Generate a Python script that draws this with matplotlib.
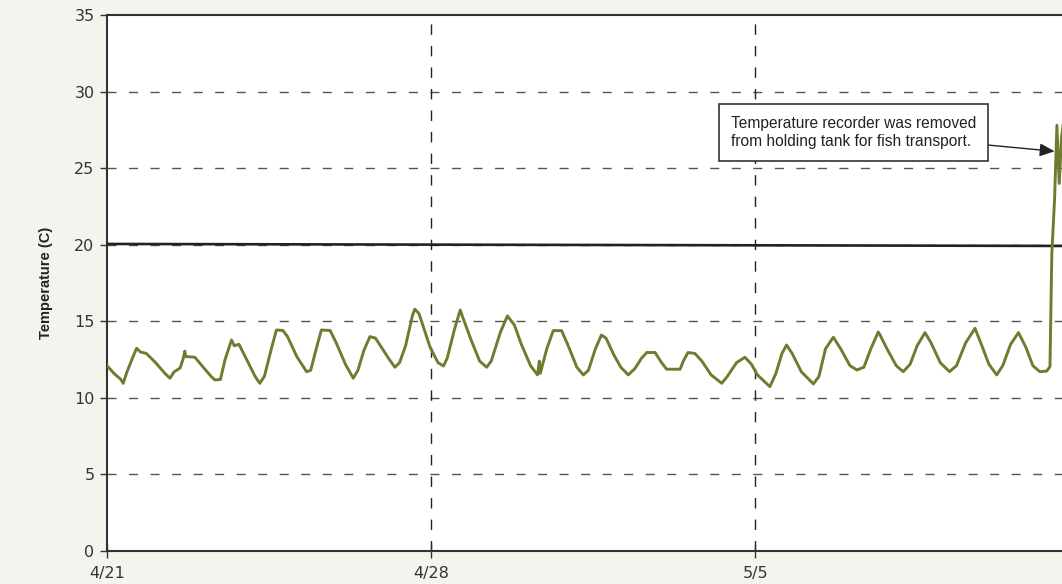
import matplotlib
matplotlib.use("Agg")
import matplotlib.pyplot as plt

plt.rcParams['font.family'] = ['Liberation Sans', 'DejaVu Sans']

# days since 4/21 and water temperature (C)
days = [0.00, 0.15, 0.30, 0.35, 0.42, 0.55, 0.64, 0.72, 0.85, 1.05, 1.25, 1.36, 1.45, 1.58,
        1.65, 1.68, 1.70, 1.90, 2.05, 2.25, 2.33, 2.45, 2.55, 2.69, 2.75, 2.85, 3.00, 3.20,
        3.30, 3.40, 3.55, 3.66, 3.80, 3.90, 4.10, 4.31, 4.40, 4.52, 4.63, 4.82, 4.95, 5.15,
        5.32, 5.42, 5.55, 5.68, 5.80, 5.95, 6.10, 6.22, 6.32, 6.45, 6.60, 6.65, 6.74, 6.85,
        6.98, 7.15, 7.27, 7.35, 7.50, 7.63, 7.68, 7.85, 8.05, 8.20, 8.30, 8.50, 8.65, 8.80,
        8.95, 9.15, 9.30, 9.34, 9.36, 9.50, 9.64, 9.82, 9.95, 10.15, 10.29, 10.40, 10.55,
        10.68, 10.78, 10.95, 11.10, 11.26, 11.40, 11.55, 11.66, 11.84, 11.98, 12.09, 12.38,
        12.45, 12.55, 12.70, 12.85, 13.05, 13.28, 13.40, 13.60, 13.78, 13.92, 14.05, 14.32,
        14.45, 14.58, 14.68, 14.80, 15.00, 15.26, 15.38, 15.52, 15.69, 15.85, 16.05, 16.20,
        16.35, 16.50, 16.66, 16.70, 16.85, 17.05, 17.20, 17.35, 17.50, 17.67, 17.80, 18.00,
        18.20, 18.35, 18.55, 18.75, 18.90, 19.05, 19.22, 19.35, 19.52, 19.69, 19.85, 20.00,
        20.15, 20.30, 20.37, 20.41, 20.43, 20.47, 20.52, 20.57, 20.62, 20.70]
temps = [12.1, 11.6, 11.2, 10.95, 11.6, 12.6, 13.24, 13.0, 12.9, 12.3, 11.6, 11.28, 11.7, 11.95,
         12.6, 13.05, 12.7, 12.65, 12.1, 11.4, 11.17, 11.2, 12.5, 13.78, 13.4, 13.5, 12.6, 11.4,
         10.95, 11.4, 13.2, 14.43, 14.4, 14.0, 12.7, 11.71, 11.8, 13.2, 14.43, 14.4, 13.6, 12.2,
         11.28, 11.8, 13.1, 14.0, 13.9, 13.2, 12.5, 12.0, 12.3, 13.4, 15.4, 15.79, 15.5, 14.5,
         13.3, 12.3, 12.08, 12.6, 14.4, 15.74, 15.3, 13.9, 12.4, 12.0, 12.4, 14.3, 15.35, 14.76,
         13.5, 12.1, 11.5, 12.4, 11.6, 13.2, 14.39, 14.39, 13.5, 12.0, 11.5, 11.8, 13.2,
         14.1, 13.9, 12.8, 12.0, 11.5, 11.9, 12.6, 12.96, 12.96, 12.3, 11.87, 11.87,
         12.4, 12.96, 12.9, 12.4, 11.5, 10.95, 11.4, 12.3, 12.65, 12.2, 11.5, 10.73,
         11.6, 12.9, 13.45, 12.9, 11.7, 10.91, 11.4, 13.2, 13.96, 13.2, 12.1, 11.82,
         12.0, 13.2, 14.3, 14.1, 13.2, 12.1, 11.71, 12.2, 13.4, 14.26, 13.6, 12.3,
         11.71, 12.1, 13.6, 14.54, 13.4, 12.2, 11.5, 12.1, 13.5, 14.26, 13.3, 12.1,
         11.71, 11.75, 12.04, 19.4, 20.6, 23.0, 27.8, 24.0, 27.0, 29.0]

# 20 C criterion line (slightly sloped in the original)
limit_days = [0.0, 20.63]
limit_temps = [20.05, 19.92]

tick_days = [0, 7, 14]
tick_labels = ["4/21", "4/28", "5/5"]

fig = plt.figure(figsize=(10.62, 5.84), dpi=100, facecolor="#f4f4ef")
ax = fig.add_axes([107 / 1062, 1 - 551 / 584, 955 / 1062, 536 / 584])
ax.set_facecolor("white")

ax.plot(limit_days, limit_temps, color="#222222", lw=1.9, zorder=3)
ax.plot(days, temps, color="#717b30", lw=2.1, zorder=4)

ax.set_xlim(0, 20.63)
ax.set_ylim(0, 35)
ax.set_yticks(range(0, 36, 5))
ax.set_xticks(tick_days)
ax.set_xticklabels(tick_labels)

for y in range(5, 35, 5):
    ax.axhline(y, color="#555555", lw=1.0, ls=(0, (6.5, 9)), zorder=1)
for d in tick_days[1:]:
    ax.axvline(d, color="#222222", lw=1.0, ls=(0, (7.5, 8)), zorder=1)

for s in ["left", "bottom", "top"]:
    ax.spines[s].set_color("#333333")
    ax.spines[s].set_linewidth(1.5)
ax.spines["right"].set_visible(False)

ax.tick_params(axis="y", direction="out", length=5, width=1, color="#333333",
               labelsize=11.5, labelcolor="#333333", pad=4)
ax.tick_params(axis="x", direction="inout", length=10, width=1, color="#333333",
               labelsize=11.5, labelcolor="#333333", pad=6)
for lbl in ax.get_xticklabels() + ax.get_yticklabels():
    lbl.set_family("DejaVu Sans")

ax.set_ylabel("Temperature (C)", fontsize=10.5, fontweight="bold", color="#222222")
ax.yaxis.set_label_coords(-54 / 955, 0.5)

ax.annotate("Temperature recorder was removed\nfrom holding tank for fish transport.",
            xy=(20.47, 26.1), xytext=(13.48, 27.33), textcoords="data",
            ha="left", va="center", fontsize=11.2, color="#222222", linespacing=1.25,
            bbox=dict(boxstyle="square,pad=0.75", fc="white", ec="#333333", lw=1.2),
            arrowprops=dict(arrowstyle="-|>,head_length=0.8,head_width=0.35",
                            color="#222222", lw=1.0, shrinkA=0, shrinkB=0),
            zorder=6)

fig.savefig("out.png", dpi=100, facecolor=fig.get_facecolor())
